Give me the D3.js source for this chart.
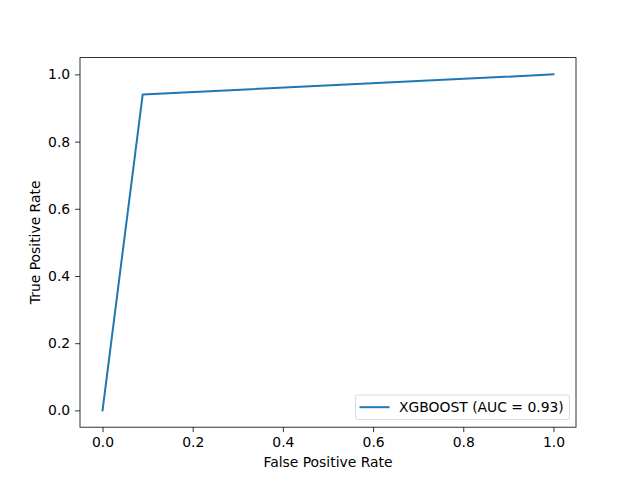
<!DOCTYPE html>
<html>
<head>
<meta charset="utf-8">
<script src="https://cdn.jsdelivr.net/npm/d3@7"></script>
<style>
  body { margin: 0; background: #fff; }
  svg { display: block; font-family: "DejaVu Sans", sans-serif; }
</style>
</head>
<body>
<svg></svg>
<script>
const fpr = [0, 0.089, 1];
const tpr = [0, 0.94, 1];
const xTicks = [0.0, 0.2, 0.4, 0.6, 0.8, 1.0];
const yTicks = [0.0, 0.2, 0.4, 0.6, 0.8, 1.0];
const seriesLabel = "XGBOOST (AUC = 0.93)";

const SVG_WIDTH = 640;
const SVG_HEIGHT = 480;
const LEFT = 80, RIGHT = 576, TOP = 57.6, BOTTOM = 427.2;
const FONT = 13.9;
const LINE_COLOR = "#1f77b4";

const svg = d3.select("svg").attr("width", SVG_WIDTH).attr("height", SVG_HEIGHT);

const xScale = d3.scaleLinear().domain([-0.05, 1.05]).range([LEFT, RIGHT]);
const yScale = d3.scaleLinear().domain([-0.05, 1.05]).range([BOTTOM, TOP]);

// Axes
const xAxis = d3.axisBottom(xScale).tickValues(xTicks).tickFormat(d3.format(".1f"))
  .tickSizeInner(4.9).tickSizeOuter(0).tickPadding(4.9);
const yAxis = d3.axisLeft(yScale).tickValues(yTicks).tickFormat(d3.format(".1f"))
  .tickSizeInner(4.9).tickSizeOuter(0).tickPadding(4.9);

const gx = svg.append("g").attr("transform", "translate(0," + BOTTOM + ")").call(xAxis);
const gy = svg.append("g").attr("transform", "translate(" + LEFT + ",0)").call(yAxis);
[gx, gy].forEach(function(g) {
  g.select(".domain").remove();
  g.selectAll(".tick line").attr("stroke", "#000").attr("stroke-width", 0.8);
  g.selectAll(".tick text").attr("font-size", FONT).attr("fill", "#000")
    .attr("font-family", "DejaVu Sans, sans-serif");
});

// Frame
svg.append("rect")
  .attr("x", LEFT).attr("y", TOP)
  .attr("width", RIGHT - LEFT).attr("height", BOTTOM - TOP)
  .attr("fill", "none").attr("stroke", "#000").attr("stroke-width", 0.8);

// ROC line
const line = d3.line().x(function(d, i) { return xScale(fpr[i]); }).y(function(d, i) { return yScale(tpr[i]); });
svg.append("path")
  .datum(fpr)
  .attr("d", line)
  .attr("fill", "none")
  .attr("stroke", LINE_COLOR)
  .attr("stroke-width", 2)
  .attr("stroke-linejoin", "round")
  .attr("stroke-linecap", "square");

// Axis labels
svg.append("text")
  .attr("x", (LEFT + RIGHT) / 2).attr("y", 467)
  .attr("text-anchor", "middle").attr("font-size", FONT)
  .text("False Positive Rate");
svg.append("text")
  .attr("transform", "translate(39.5," + (TOP + BOTTOM) / 2 + ") rotate(-90)")
  .attr("text-anchor", "middle").attr("font-size", FONT)
  .text("True Positive Rate");

// Legend
const legend = svg.append("g");
legend.append("rect")
  .attr("x", 355.5).attr("y", 395).attr("width", 214).attr("height", 24.5)
  .attr("rx", 2).attr("fill", "#fff").attr("fill-opacity", 0.8)
  .attr("stroke", "#d0d0d0").attr("stroke-width", 0.8);
legend.append("line")
  .attr("x1", 359.5).attr("x2", 389.5).attr("y1", 407.2).attr("y2", 407.2)
  .attr("stroke", LINE_COLOR).attr("stroke-width", 2);
legend.append("text")
  .attr("x", 399).attr("y", 412).attr("font-size", FONT)
  .text(seriesLabel);
</script>
</body>
</html>
